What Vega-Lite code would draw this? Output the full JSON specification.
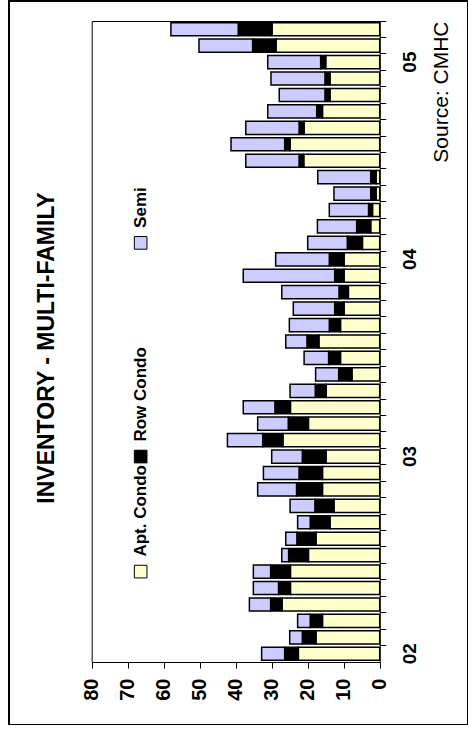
{
  "$schema": "https://vega.github.io/schema/vega-lite/v6.json",
  "padding": {"left": 9, "top": 1, "right": 0, "bottom": 0},
  "width": 459,
  "height": 724,
  "background": "white",
  "title": {
    "text": "INVENTORY - MULTI-FAMILY",
    "orient": "left",
    "font": "Liberation Sans",
    "fontSize": 23,
    "fontWeight": "bold",
    "color": "black",
    "offset": -49.7,
    "dx": 15
  },
  "config": {
    "font": "Liberation Sans",
    "view": {"stroke": "black", "strokeWidth": 2}
  },
  "resolve": {"axis": {"x": "independent", "y": "independent"}},
  "datasets": {
    "inv": [
      {"month": "2002-01", "type": "Apt. Condo", "units": 22.6}, {"month": "2002-01", "type": "Row Condo", "units": 3.8}, {"month": "2002-01", "type": "Semi", "units": 6.4},
      {"month": "2002-02", "type": "Apt. Condo", "units": 17.7}, {"month": "2002-02", "type": "Row Condo", "units": 3.8}, {"month": "2002-02", "type": "Semi", "units": 3.5},
      {"month": "2002-03", "type": "Apt. Condo", "units": 15.9}, {"month": "2002-03", "type": "Row Condo", "units": 3.4}, {"month": "2002-03", "type": "Semi", "units": 3.5},
      {"month": "2002-04", "type": "Apt. Condo", "units": 27.1}, {"month": "2002-04", "type": "Row Condo", "units": 3.2}, {"month": "2002-04", "type": "Semi", "units": 5.9},
      {"month": "2002-05", "type": "Apt. Condo", "units": 24.8}, {"month": "2002-05", "type": "Row Condo", "units": 3.3}, {"month": "2002-05", "type": "Semi", "units": 7.0},
      {"month": "2002-06", "type": "Apt. Condo", "units": 24.8}, {"month": "2002-06", "type": "Row Condo", "units": 5.5}, {"month": "2002-06", "type": "Semi", "units": 4.8},
      {"month": "2002-07", "type": "Apt. Condo", "units": 19.8}, {"month": "2002-07", "type": "Row Condo", "units": 5.5}, {"month": "2002-07", "type": "Semi", "units": 1.9},
      {"month": "2002-08", "type": "Apt. Condo", "units": 17.7}, {"month": "2002-08", "type": "Row Condo", "units": 5.3}, {"month": "2002-08", "type": "Semi", "units": 3.1},
      {"month": "2002-09", "type": "Apt. Condo", "units": 13.8}, {"month": "2002-09", "type": "Row Condo", "units": 5.5}, {"month": "2002-09", "type": "Semi", "units": 3.5},
      {"month": "2002-10", "type": "Apt. Condo", "units": 12.7}, {"month": "2002-10", "type": "Row Condo", "units": 5.3}, {"month": "2002-10", "type": "Semi", "units": 6.9},
      {"month": "2002-11", "type": "Apt. Condo", "units": 15.9}, {"month": "2002-11", "type": "Row Condo", "units": 7.2}, {"month": "2002-11", "type": "Semi", "units": 10.8},
      {"month": "2002-12", "type": "Apt. Condo", "units": 15.9}, {"month": "2002-12", "type": "Row Condo", "units": 6.5}, {"month": "2002-12", "type": "Semi", "units": 9.9},
      {"month": "2003-01", "type": "Apt. Condo", "units": 14.9}, {"month": "2003-01", "type": "Row Condo", "units": 6.6}, {"month": "2003-01", "type": "Semi", "units": 8.5},
      {"month": "2003-02", "type": "Apt. Condo", "units": 26.9}, {"month": "2003-02", "type": "Row Condo", "units": 5.6}, {"month": "2003-02", "type": "Semi", "units": 9.8},
      {"month": "2003-03", "type": "Apt. Condo", "units": 19.8}, {"month": "2003-03", "type": "Row Condo", "units": 5.6}, {"month": "2003-03", "type": "Semi", "units": 8.5},
      {"month": "2003-04", "type": "Apt. Condo", "units": 24.8}, {"month": "2003-04", "type": "Row Condo", "units": 4.3}, {"month": "2003-04", "type": "Semi", "units": 8.8},
      {"month": "2003-05", "type": "Apt. Condo", "units": 14.9}, {"month": "2003-05", "type": "Row Condo", "units": 3.0}, {"month": "2003-05", "type": "Semi", "units": 7.0},
      {"month": "2003-06", "type": "Apt. Condo", "units": 7.7}, {"month": "2003-06", "type": "Row Condo", "units": 3.7}, {"month": "2003-06", "type": "Semi", "units": 6.4},
      {"month": "2003-07", "type": "Apt. Condo", "units": 10.9}, {"month": "2003-07", "type": "Row Condo", "units": 3.3}, {"month": "2003-07", "type": "Semi", "units": 6.8},
      {"month": "2003-08", "type": "Apt. Condo", "units": 16.9}, {"month": "2003-08", "type": "Row Condo", "units": 3.3}, {"month": "2003-08", "type": "Semi", "units": 5.9},
      {"month": "2003-09", "type": "Apt. Condo", "units": 10.9}, {"month": "2003-09", "type": "Row Condo", "units": 3.1}, {"month": "2003-09", "type": "Semi", "units": 11.1},
      {"month": "2003-10", "type": "Apt. Condo", "units": 9.9}, {"month": "2003-10", "type": "Row Condo", "units": 2.6}, {"month": "2003-10", "type": "Semi", "units": 11.5},
      {"month": "2003-11", "type": "Apt. Condo", "units": 8.7}, {"month": "2003-11", "type": "Row Condo", "units": 2.6}, {"month": "2003-11", "type": "Semi", "units": 15.9},
      {"month": "2003-12", "type": "Apt. Condo", "units": 9.9}, {"month": "2003-12", "type": "Row Condo", "units": 2.6}, {"month": "2003-12", "type": "Semi", "units": 25.4},
      {"month": "2004-01", "type": "Apt. Condo", "units": 9.9}, {"month": "2004-01", "type": "Row Condo", "units": 4.1}, {"month": "2004-01", "type": "Semi", "units": 14.9},
      {"month": "2004-02", "type": "Apt. Condo", "units": 4.8}, {"month": "2004-02", "type": "Row Condo", "units": 4.2}, {"month": "2004-02", "type": "Semi", "units": 11.0},
      {"month": "2004-03", "type": "Apt. Condo", "units": 2.5}, {"month": "2004-03", "type": "Row Condo", "units": 3.9}, {"month": "2004-03", "type": "Semi", "units": 10.9},
      {"month": "2004-04", "type": "Apt. Condo", "units": 2.0}, {"month": "2004-04", "type": "Row Condo", "units": 1.1}, {"month": "2004-04", "type": "Semi", "units": 10.9},
      {"month": "2004-05", "type": "Apt. Condo", "units": 1.0}, {"month": "2004-05", "type": "Row Condo", "units": 1.5}, {"month": "2004-05", "type": "Semi", "units": 10.2},
      {"month": "2004-06", "type": "Apt. Condo", "units": 1.0}, {"month": "2004-06", "type": "Row Condo", "units": 1.5}, {"month": "2004-06", "type": "Semi", "units": 14.7},
      {"month": "2004-07", "type": "Apt. Condo", "units": 21.1}, {"month": "2004-07", "type": "Row Condo", "units": 1.3}, {"month": "2004-07", "type": "Semi", "units": 14.8},
      {"month": "2004-08", "type": "Apt. Condo", "units": 24.9}, {"month": "2004-08", "type": "Row Condo", "units": 1.5}, {"month": "2004-08", "type": "Semi", "units": 14.9},
      {"month": "2004-09", "type": "Apt. Condo", "units": 21.0}, {"month": "2004-09", "type": "Row Condo", "units": 1.4}, {"month": "2004-09", "type": "Semi", "units": 14.8},
      {"month": "2004-10", "type": "Apt. Condo", "units": 15.9}, {"month": "2004-10", "type": "Row Condo", "units": 1.6}, {"month": "2004-10", "type": "Semi", "units": 13.6},
      {"month": "2004-11", "type": "Apt. Condo", "units": 13.8}, {"month": "2004-11", "type": "Row Condo", "units": 1.4}, {"month": "2004-11", "type": "Semi", "units": 12.7},
      {"month": "2004-12", "type": "Apt. Condo", "units": 13.8}, {"month": "2004-12", "type": "Row Condo", "units": 1.4}, {"month": "2004-12", "type": "Semi", "units": 15.0},
      {"month": "2005-01", "type": "Apt. Condo", "units": 15.0}, {"month": "2005-01", "type": "Row Condo", "units": 1.4}, {"month": "2005-01", "type": "Semi", "units": 14.7},
      {"month": "2005-02", "type": "Apt. Condo", "units": 28.8}, {"month": "2005-02", "type": "Row Condo", "units": 6.5}, {"month": "2005-02", "type": "Semi", "units": 14.9},
      {"month": "2005-03", "type": "Apt. Condo", "units": 29.9}, {"month": "2005-03", "type": "Row Condo", "units": 9.4}, {"month": "2005-03", "type": "Semi", "units": 18.7}
    ],
    "legendItems": [
      {"type": "Apt. Condo", "month": "2002-06"},
      {"type": "Row Condo", "month": "2003-01"},
      {"type": "Semi", "month": "2004-02"}
    ]
  },
  "layer": [
    {
      "data": {"name": "inv"},
      "mark": {"type": "bar", "stroke": "black", "strokeWidth": 1.5},
      "encoding": {
        "y": {
          "field": "month", "type": "ordinal", "sort": "descending",
          "scale": {"range": [20, 661], "paddingInner": 0.2, "paddingOuter": 0.1},
          "axis": {
            "orient": "right",
            "offset": -88.3,
            "labelExpr": "slice(datum.value, 5) == '01' ? slice(datum.value, 2, 4) : ''",
            "labelOverlap": false,
            "labelAngle": 270,
            "labelAlign": "center",
            "labelBaseline": "top",
            "labelPadding": 15,
            "bandPosition": -0.125,
            "labelFontSize": 19,
            "labelFontWeight": "bold",
            "labelColor": "black",
            "tickSize": 6,
            "tickColor": "black",
            "domainColor": "black",
            "title": "Source:  CMHC",
            "titleAngle": 270,
            "titleAnchor": "start",
            "titleAlign": "right",
            "titleBaseline": "top",
            "titlePadding": 11,
            "titleFontSize": 21,
            "titleFontWeight": "normal",
            "titleColor": "black"
          }
        },
        "x": {
          "field": "units", "type": "quantitative", "stack": "zero",
          "scale": {"domain": [0, 80], "range": [370.7, 82.7], "nice": false},
          "axis": {
            "orient": "bottom",
            "offset": -63,
            "values": [0, 10, 20, 30, 40, 50, 60, 70, 80],
            "grid": false,
            "labelOverlap": false,
            "labelAngle": 270,
            "labelAlign": "right",
            "labelBaseline": "middle",
            "labelPadding": 10,
            "labelFontSize": 20,
            "labelFontWeight": "bold",
            "labelColor": "black",
            "tickSize": 6,
            "tickColor": "black",
            "domainColor": "black",
            "title": null
          }
        },
        "color": {
          "field": "type", "type": "nominal",
          "scale": {"domain": ["Apt. Condo", "Row Condo", "Semi"], "range": ["#FFFFCC", "#000000", "#CCCCFF"]},
          "legend": null
        }
      }
    },
    {
      "data": {"name": "legendItems"},
      "mark": {"type": "point", "shape": "square", "filled": true, "size": 160, "stroke": "black", "strokeWidth": 1, "opacity": 1},
      "encoding": {
        "y": {
          "field": "month", "type": "ordinal", "sort": "descending",
          "axis": {"orient": "left", "offset": -82.7, "labels": false, "ticks": false, "domain": true, "domainColor": "black", "grid": false, "title": null}
        },
        "x": {
          "datum": 66.4, "type": "quantitative",
          "axis": {"orient": "top", "offset": -20, "labels": false, "ticks": false, "domain": true, "domainColor": "black", "grid": false, "title": null}
        },
        "color": {"field": "type", "type": "nominal", "legend": null}
      }
    },
    {
      "data": {"name": "legendItems"},
      "mark": {"type": "text", "angle": 270, "align": "left", "baseline": "middle", "dx": 15, "fontSize": 17, "fontWeight": "bold", "color": "black"},
      "encoding": {
        "y": {"field": "month", "type": "ordinal", "sort": "descending", "axis": null},
        "x": {"datum": 66.4, "type": "quantitative", "axis": null},
        "text": {"field": "type"}
      }
    }
  ]
}
